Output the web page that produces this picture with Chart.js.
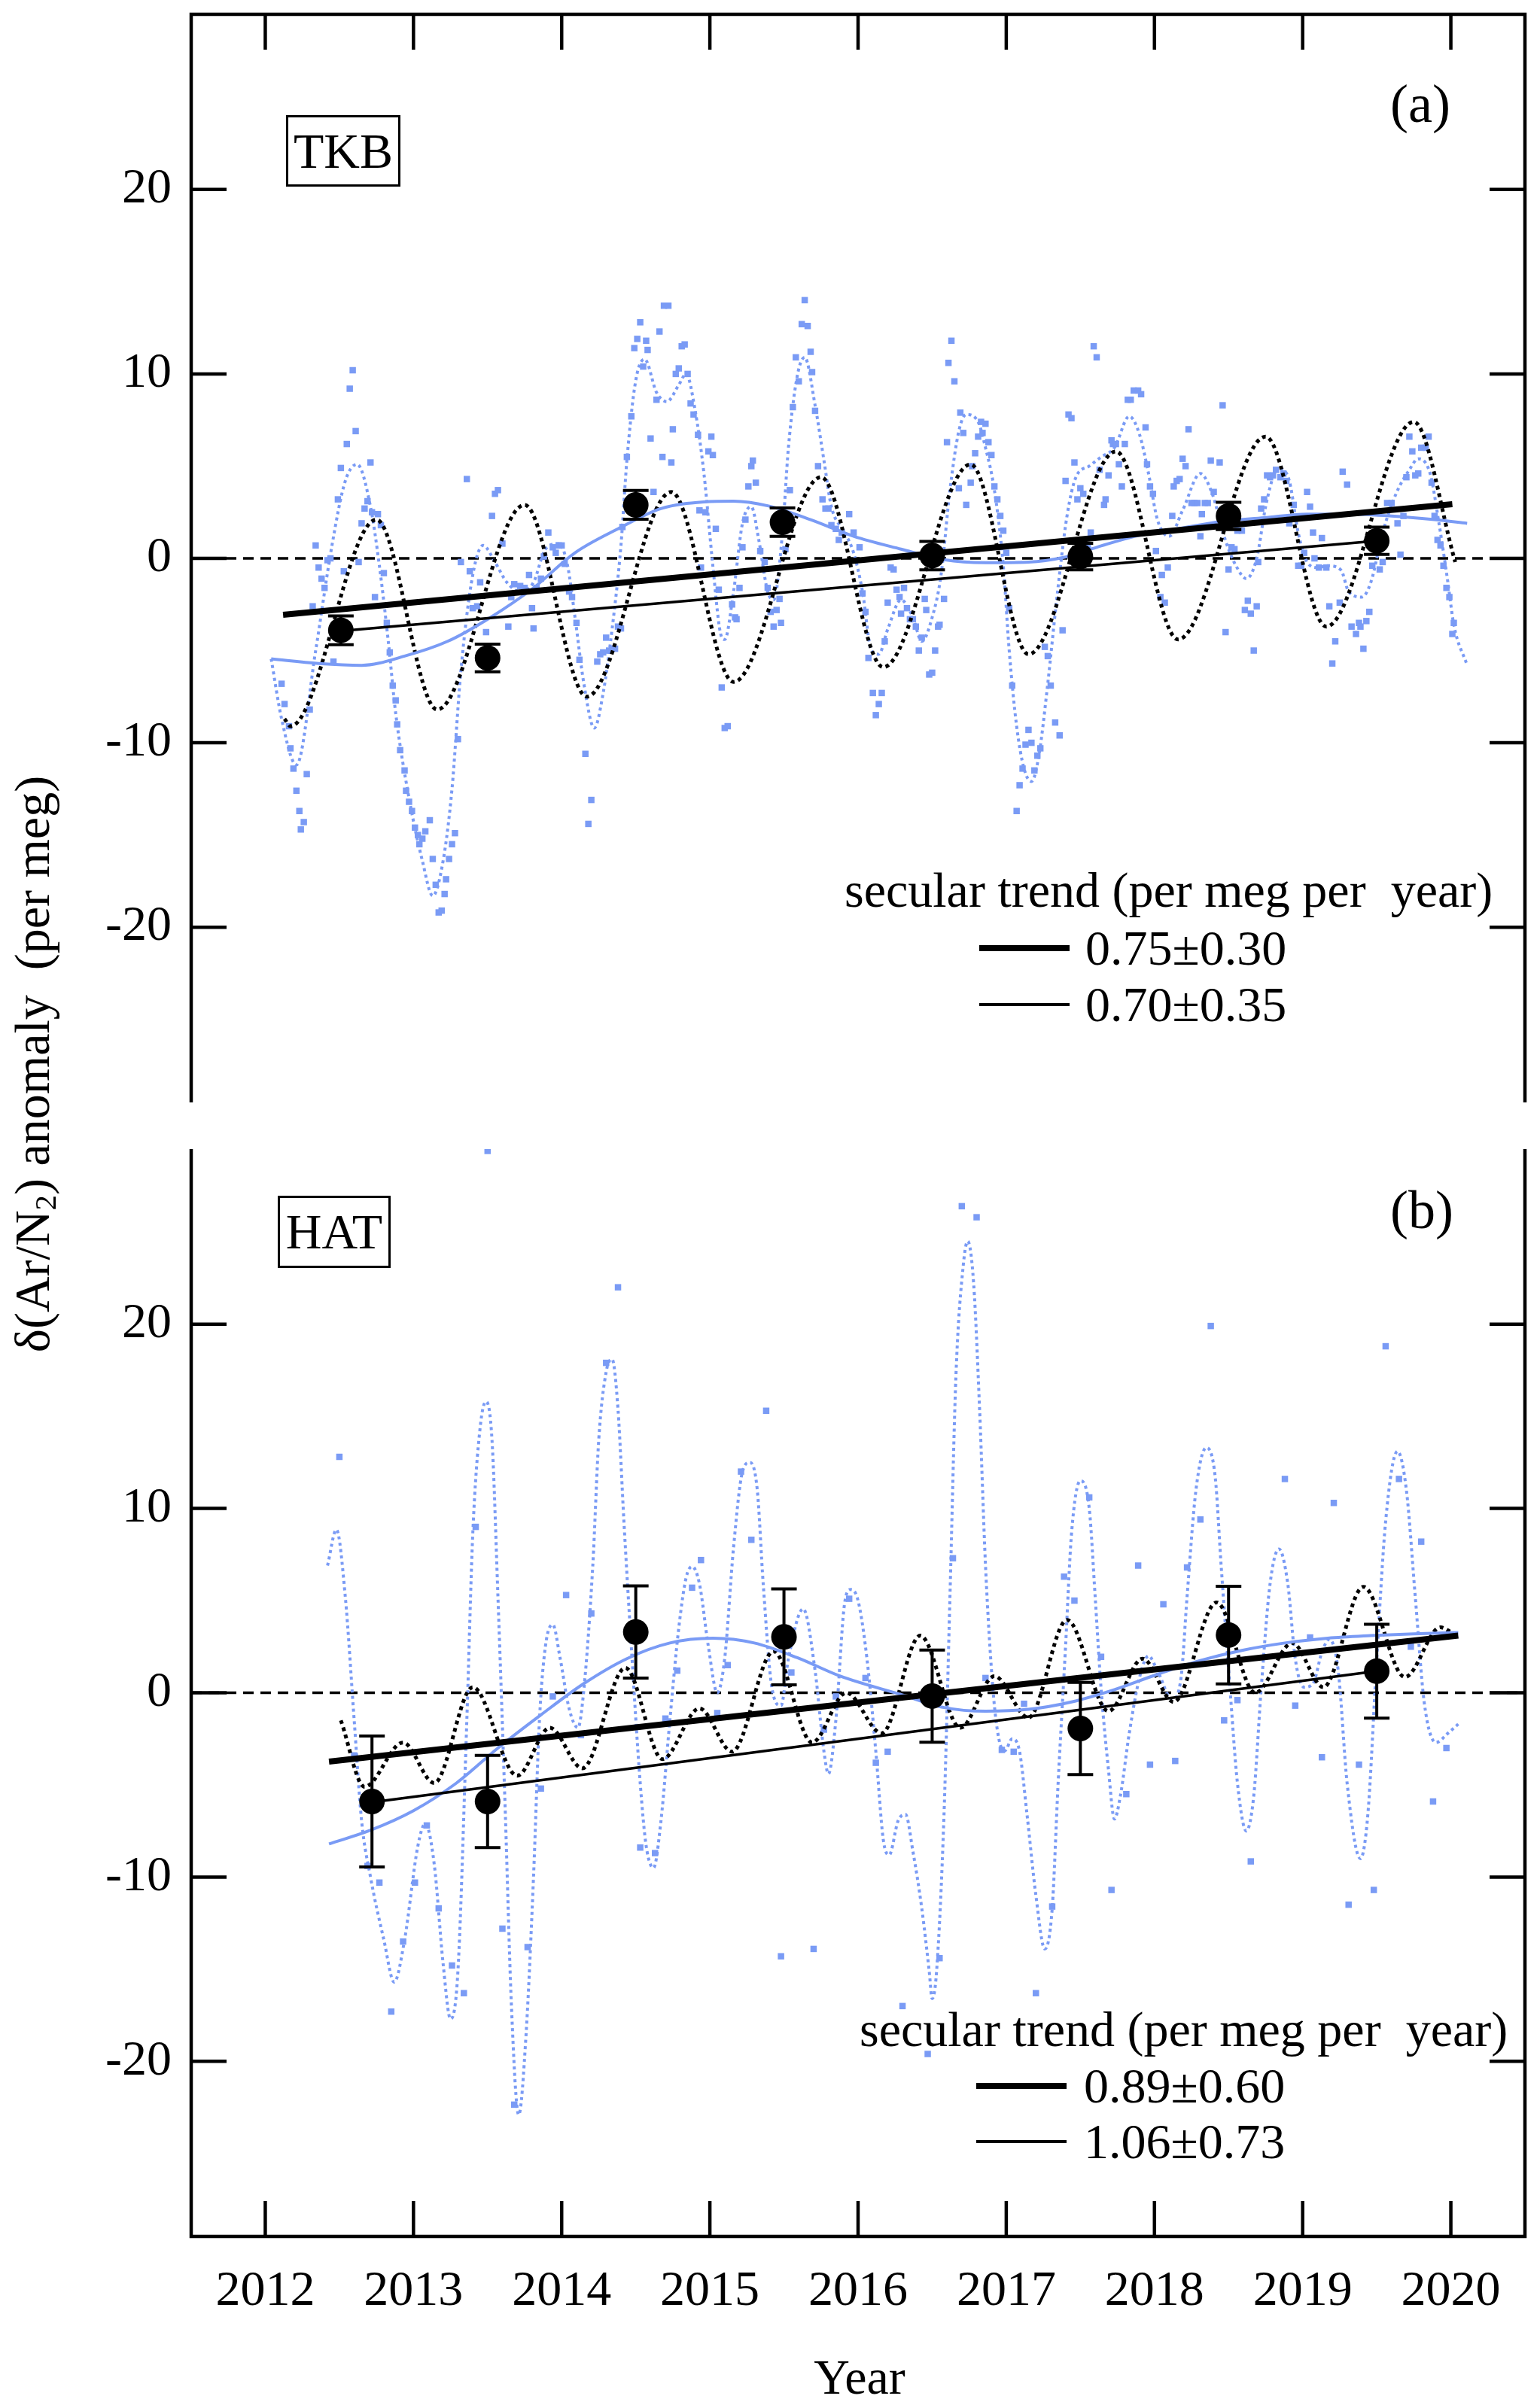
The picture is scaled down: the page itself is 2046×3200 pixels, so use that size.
<!DOCTYPE html>
<html>
<head>
<meta charset="utf-8">
<title>Ar/N2 anomaly - TKB / HAT</title>
<script src="https://cdn.jsdelivr.net/npm/chart.js@4.4.1/dist/chart.umd.min.js"></script>
<style>
    html, body { margin: 0; padding: 0; background: #fff; }
    #page { position: relative; width: 2046px; height: 3200px; font-family: 'Liberation Serif', 'Times New Roman', serif; color: #000; }
    canvas { position: absolute; left: 0; }
    .txt { position: absolute; white-space: pre; font-size: 66px; line-height: 66px; }
    .site { position: absolute; box-sizing: border-box; border: 3px solid #000; display: flex; align-items: center; justify-content: center; font-size: 66px; line-height: 66px; }
    .tag { position: absolute; font-size: 72px; line-height: 72px; }
    .key { position: absolute; background: #000; }
    sub { font-size: 0.62em; line-height: 0; vertical-align: -0.22em; }
</style>
</head>
<body>
<div id="page">
    <canvas id="chartTKB" width="2046" height="1500" style="top:0"></canvas>
    <canvas id="chartHAT" width="2046" height="1700" style="top:1500px"></canvas>

    <div class="txt" style="left:-457px; top:1381px; width:1000px; text-align:center; transform:rotate(-90deg);">δ(Ar/N<sub>2</sub>) anomaly  (per meg)</div>
    <div class="txt" style="left:942px; top:3126px; width:400px; text-align:center;">Year</div>

    <div class="site" style="left:380px; top:153px; width:152px; height:95px;">TKB</div>
    <div class="site" style="left:369px; top:1589px; width:150px; height:96px;">HAT</div>
    <div class="tag" style="left:1847px; top:102px;">(a)</div>
    <div class="tag" style="left:1847px; top:1572px;">(b)</div>

    <div class="txt" style="left:1122px; top:1150px;">secular trend (per meg per  year)</div>
    <div class="key" style="left:1301px; top:1256px; width:120px; height:8px;"></div>
    <div class="key" style="left:1301px; top:1333px; width:120px; height:4px;"></div>
    <div class="txt" id="keyA1" style="left:1442px; top:1227px;"></div>
    <div class="txt" id="keyA2" style="left:1442px; top:1302px;"></div>

    <div class="txt" style="left:1142px; top:2664px;">secular trend (per meg per  year)</div>
    <div class="key" style="left:1297px; top:2768px; width:120px; height:8px;"></div>
    <div class="key" style="left:1297px; top:2844px; width:120px; height:4px;"></div>
    <div class="txt" id="keyB1" style="left:1440px; top:2739px;"></div>
    <div class="txt" id="keyB2" style="left:1440px; top:2813px;"></div>
</div>

<script>
// ==========================================
// 1. DATA
// ==========================================
const xTicks = [2012, 2013, 2014, 2015, 2016, 2017, 2018, 2019, 2020];
const yTicks = [-20, -10, 0, 10, 20];
const xRange = [2011.5, 2020.5];
const yRange = [-29.5, 29.5];

// --- (a) TKB ---
const tkbAnnualYears = [2012.51, 2013.5, 2014.5, 2015.49, 2016.5, 2017.5, 2018.5, 2019.5];
const tkbAnnualVals  = [-3.9, -5.4, 2.9, 1.96, 0.15, 0.1, 2.3, 0.95];
const tkbAnnualErr   = [0.78, 0.75, 0.78, 0.77, 0.77, 0.72, 0.74, 0.74];
const tkbTrendAll    = [[2012.12, -3.06], [2020.01, 2.94]];
const tkbTrendAnnual = [[2012.51, -3.94], [2019.5, 0.95]];
const tkbTrendText   = ['0.75±0.30', '0.70±0.35'];

const tkbSmooth = [[2012.04,-5.45],[2012.36,-5.7],[2012.65,-5.8],[2012.94,-5.3],[2013.23,-4.5],[2013.52,-3.2],[2013.81,-1.6],
    [2014.09,0.3],[2014.38,1.6],[2014.67,2.7],[2014.96,3.06],[2015.16,3.1],[2015.39,2.85],[2015.68,2.1],[2015.97,1.2],
    [2016.29,0.5],[2016.58,-0.07],[2016.86,-0.23],[2017.15,-0.2],[2017.38,0.04],[2017.61,0.6],[2017.87,1.2],[2018.16,1.6],
    [2018.45,2.0],[2018.74,2.2],[2019.03,2.4],[2019.31,2.4],[2019.6,2.3],[2019.89,2.1],[2020.11,1.9]];

const tkbModel = [[2012.13,-8.7],[2012.17,-9.1],[2012.75,2.1],[2013.16,-8.2],[2013.75,2.9],[2014.17,-7.5],[2014.74,3.6],
    [2015.16,-6.7],[2015.75,4.4],[2016.17,-5.9],[2016.76,5.1],[2017.15,-5.2],[2017.74,5.8],[2018.16,-4.4],[2018.75,6.6],
    [2019.16,-3.7],[2019.75,7.4],[2020.03,-0.2]];

const tkbFit = [[2012.04,-5.45],[2012.11,-8.7],[2012.21,-11.2],[2012.34,-5.0],[2012.45,0.7],[2012.54,4.2],[2012.62,5.1],
    [2012.71,2.8],[2012.77,-0.4],[2012.83,-4.5],[2012.88,-8.4],[2012.97,-13.0],[2013.06,-16.4],[2013.13,-18.3],[2013.2,-16.4],
    [2013.26,-12.5],[2013.32,-6.1],[2013.4,-0.9],[2013.47,0.7],[2013.55,-0.2],[2013.63,-1.3],[2013.72,-1.8],[2013.81,-1.3],
    [2013.89,0.5],[2013.98,0.8],[2014.04,-0.4],[2014.09,-3.2],[2014.15,-6.8],[2014.22,-9.2],[2014.28,-7.3],[2014.34,-3.85],
    [2014.4,0.7],[2014.44,5.3],[2014.5,9.65],[2014.56,10.8],[2014.64,9.0],[2014.71,8.5],[2014.79,9.4],[2014.84,10.0],
    [2014.9,8.05],[2014.96,4.6],[2015.02,-0.4],[2015.07,-4.0],[2015.1,-4.4],[2015.16,-1.8],[2015.22,1.9],[2015.28,2.8],
    [2015.33,1.0],[2015.39,-1.8],[2015.43,-2.25],[2015.49,1.4],[2015.53,6.0],[2015.59,9.9],[2015.64,10.9],[2015.71,8.3],
    [2015.77,5.3],[2015.82,2.8],[2015.91,1.4],[2015.97,0.3],[2016.03,-1.8],[2016.09,-5.0],[2016.14,-5.2],[2016.2,-3.85],
    [2016.29,-2.25],[2016.37,-3.2],[2016.43,-4.5],[2016.5,-3.2],[2016.56,-0.9],[2016.62,3.7],[2016.68,6.9],[2016.73,7.8],
    [2016.81,7.4],[2016.86,6.0],[2016.92,3.7],[2016.98,-0.4],[2017.02,-5.0],[2017.07,-9.1],[2017.12,-11.4],[2017.17,-12.1],
    [2017.22,-10.7],[2017.28,-6.8],[2017.34,-2.25],[2017.41,2.3],[2017.47,4.4],[2017.56,5.0],[2017.64,5.5],[2017.73,6.0],
    [2017.83,7.7],[2017.9,6.7],[2017.96,4.6],[2018.02,2.1],[2018.1,1.2],[2018.19,2.6],[2018.31,4.6],[2018.39,3.5],
    [2018.48,0.95],[2018.55,-0.4],[2018.62,-1.1],[2018.69,0.0],[2018.75,2.8],[2018.81,4.6],[2018.85,4.85],[2018.91,4.2],
    [2018.97,1.4],[2019.03,-0.2],[2019.1,-0.5],[2019.17,-0.4],[2019.26,-0.65],[2019.31,-1.8],[2019.4,-2.1],[2019.46,-1.3],
    [2019.54,1.4],[2019.63,3.5],[2019.72,4.8],[2019.78,5.4],[2019.86,4.6],[2019.92,1.9],[2019.98,-1.3],[2020.02,-3.6],
    [2020.11,-5.8]];

const tkbObs = [[2012.11,-6.8],[2012.13,-7.9],[2012.16,-9.1],[2012.17,-10.3],[2012.19,-11.4],[2012.21,-12.6],[2012.23,-13.7],
    [2012.24,-14.7],[2012.26,-14.3],[2012.28,-11.7],[2012.30,-8.2],[2012.32,-2.6],[2012.34,0.7],[2012.36,-0.5],[2012.38,-1.1],
    [2012.40,-1.6],[2012.42,-0.1],[2012.44,0.0],[2012.46,-5.6],[2012.49,3.2],[2012.51,4.9],[2012.53,-0.7],[2012.55,6.2],
    [2012.57,9.2],[2012.59,10.2],[2012.61,6.9],[2012.63,-0.2],[2012.65,1.9],[2012.67,2.7],[2012.69,3.1],[2012.71,5.2],
    [2012.72,2.5],[2012.74,-2.1],[2012.76,2.4],[2012.78,1.8],[2012.80,-0.8],[2012.82,-3.5],[2012.84,-5.1],[2012.86,-6.9],
    [2012.88,-7.7],[2012.89,-9.0],[2012.91,-10.4],[2012.94,-11.5],[2012.95,-12.6],[2012.97,-13.2],[2012.99,-13.7],
    [2013.01,-14.6],[2013.03,-15.0],[2013.04,-15.5],[2013.06,-15.2],[2013.08,-14.8],[2013.11,-14.2],[2013.13,-16.3],
    [2013.15,-17.7],[2013.17,-19.2],[2013.19,-19.1],[2013.21,-18.2],[2013.22,-17.4],[2013.24,-16.3],[2013.26,-15.5],
    [2013.28,-14.9],[2013.30,-9.8],[2013.32,-0.2],[2013.36,4.3],[2013.38,-0.7],[2013.40,-2.7],[2013.43,-2.6],[2013.45,-1.3],
    [2013.49,-4.0],[2013.53,2.3],[2013.55,3.5],[2013.57,3.7],[2013.60,0.8],[2013.64,-3.7],[2013.66,-2.1],[2013.68,-1.4],
    [2013.72,-1.5],[2013.75,-1.6],[2013.78,-0.9],[2013.80,-2.7],[2013.81,-3.8],[2013.83,-1.6],[2013.86,-1.1],[2013.88,0.1],
    [2013.91,1.4],[2013.94,0.6],[2013.96,0.3],[2013.98,0.7],[2014.00,0.7],[2014.02,-0.3],[2014.05,-1.8],[2014.07,-2.1],
    [2014.10,-3.5],[2014.12,-5.5],[2014.16,-10.6],[2014.18,-14.4],[2014.20,-13.1],[2014.24,-5.6],[2014.26,-5.2],
    [2014.28,-5.1],[2014.30,-4.3],[2014.32,-5.0],[2014.34,-4.9],[2014.36,-4.9],[2014.38,-3.7],[2014.40,-3.8],[2014.41,1.7],
    [2014.44,5.5],[2014.47,7.7],[2014.49,11.4],[2014.51,11.9],[2014.53,12.8],[2014.55,10.4],[2014.57,11.8],[2014.58,11.3],
    [2014.60,6.5],[2014.62,3.6],[2014.64,8.6],[2014.66,12.3],[2014.68,5.5],[2014.69,13.7],[2014.72,13.7],[2014.74,5.2],
    [2014.75,7.0],[2014.77,10.0],[2014.79,10.3],[2014.81,11.5],[2014.83,11.6],[2014.85,10.0],[2014.87,8.4],[2014.89,7.8],
    [2014.92,6.7],[2014.93,2.6],[2014.94,-0.5],[2014.97,2.5],[2014.99,5.8],[2015.01,6.6],[2015.02,5.6],[2015.04,1.6],
    [2015.06,-1.7],[2015.08,-7.0],[2015.10,-9.2],[2015.12,-9.1],[2015.15,-2.5],[2015.17,-3.2],[2015.18,-3.3],[2015.20,-1.6],
    [2015.22,0.6],[2015.24,2.1],[2015.26,3.9],[2015.28,5.0],[2015.29,5.3],[2015.31,4.1],[2015.34,0.4],[2015.37,-0.2],
    [2015.39,-1.6],[2015.41,-2.9],[2015.43,-3.7],[2015.45,-2.8],[2015.47,-2.2],[2015.48,-3.5],[2015.51,0.5],[2015.54,3.7],
    [2015.56,8.2],[2015.58,10.9],[2015.60,9.6],[2015.62,12.7],[2015.64,14.0],[2015.66,12.6],[2015.68,11.2],[2015.69,10.1],
    [2015.71,8.0],[2015.73,5.0],[2015.76,3.2],[2015.78,2.7],[2015.80,2.7],[2015.82,1.8],[2015.85,1.6],[2015.87,1.0],
    [2015.89,1.4],[2015.94,2.4],[2015.97,1.4],
    [2016.01,0.6],[2016.03,-1.9],[2016.05,-2.9],[2016.07,-5.4],[2016.10,-7.3],[2016.12,-8.5],[2016.14,-7.9],[2016.16,-7.3],
    [2016.18,-4.5],[2016.20,-2.4],[2016.22,-0.5],[2016.24,-0.6],[2016.26,-1.7],[2016.28,-2.1],[2016.29,-3.0],[2016.31,-1.6],
    [2016.33,-2.7],[2016.35,-3.3],[2016.37,-3.3],[2016.39,-3.7],[2016.41,-5.0],[2016.43,-4.3],[2016.45,-2.2],[2016.46,-2.8],
    [2016.48,-6.3],[2016.50,-6.2],[2016.52,-5.0],[2016.54,-3.7],[2016.55,-3.6],[2016.58,-2.2],[2016.60,6.3],[2016.61,10.6],
    [2016.63,11.8],[2016.65,9.6],[2016.68,3.8],[2016.69,7.9],[2016.71,6.8],[2016.73,2.9],[2016.76,4.1],[2016.77,5.0],
    [2016.79,5.7],[2016.81,6.6],[2016.83,7.4],[2016.84,6.8],[2016.86,7.3],[2016.88,6.3],[2016.90,5.6],[2016.92,3.9],
    [2016.94,3.2],[2016.96,2.3],[2016.98,1.5],[2017.00,0.3],[2017.02,-2.7],[2017.04,-6.9],[2017.07,-13.7],[2017.09,-12.3],
    [2017.11,-11.4],[2017.13,-10.1],[2017.15,-9.3],[2017.17,-10.0],[2017.19,-11.5],[2017.21,-10.7],[2017.23,-10.3],
    [2017.26,-4.8],[2017.28,-5.3],[2017.30,-6.9],[2017.33,-8.9],[2017.36,-9.6],[2017.38,-3.9],[2017.40,4.2],[2017.42,7.8],
    [2017.44,7.6],[2017.46,5.2],[2017.48,3.2],[2017.50,3.8],[2017.52,3.5],[2017.55,0.7],[2017.57,1.4],[2017.59,11.5],
    [2017.61,10.9],[2017.63,4.8],[2017.66,2.9],[2017.67,3.2],[2017.69,4.5],[2017.71,6.4],[2017.72,6.2],[2017.74,6.2],
    [2017.76,5.1],[2017.78,3.9],[2017.80,6.2],[2017.82,8.6],[2017.84,8.6],[2017.86,9.1],[2017.89,9.1],[2017.91,8.9],
    [2017.94,7.1],[2017.95,5.1],[2017.97,3.9],[2017.99,3.5],[2018.01,0.4],[2018.04,-2.1],[2018.05,-0.9],[2018.07,-2.4],
    [2018.09,-0.5],[2018.12,2.3],[2018.13,3.9],[2018.15,4.2],[2018.17,4.3],[2018.19,5.4],[2018.21,5.0],[2018.23,7.0],
    [2018.25,3.0],[2018.27,3.0],[2018.29,3.0],[2018.31,1.2],[2018.32,2.4],[2018.34,3.0],[2018.36,3.0],[2018.38,5.3],
    [2018.40,3.6],[2018.44,5.2],[2018.46,8.3],[2018.48,-4.0],[2018.50,-0.6],[2018.52,0.6],[2018.54,0.5],[2018.56,1.5],
    [2018.59,1.5],[2018.61,-2.8],[2018.63,-2.3],[2018.65,-3.0],[2018.67,-5.0],[2018.69,-2.6],[2018.70,-0.2],[2018.72,2.7],
    [2018.74,3.2],[2018.76,4.5],[2018.78,4.4],[2018.80,4.5],[2018.82,4.8],[2018.85,4.4],[2018.87,4.6],[2018.89,4.2],
    [2018.91,1.9],[2018.94,2.9],[2018.97,-0.4],[2018.99,-0.4],[2019.01,0.3],[2019.03,3.6],[2019.05,2.8],[2019.07,1.4],
    [2019.08,0.0],[2019.11,-0.5],[2019.13,1.1],[2019.16,-0.5],[2019.18,-2.6],[2019.20,-5.7],[2019.22,-4.5],[2019.25,-2.4],
    [2019.27,4.7],[2019.30,4.0],[2019.33,-3.7],[2019.36,-4.1],[2019.38,-3.5],[2019.39,-3.7],[2019.41,-4.9],[2019.43,-3.4],
    [2019.45,-2.9],[2019.47,-0.4],[2019.49,1.0],[2019.52,-0.6],[2019.54,-0.2],[2019.57,3.0],[2019.60,3.0],[2019.64,1.9],
    [2019.66,0.2],[2019.68,2.3],[2019.70,4.4],[2019.72,6.6],[2019.74,5.8],[2019.76,4.5],[2019.78,4.6],[2019.80,6.0],
    [2019.83,6.0],[2019.85,6.6],[2019.87,4.1],[2019.89,2.3],[2019.91,1.0],[2019.93,0.7],[2019.95,-0.4],[2019.97,-1.6],
    [2019.99,-2.1],[2020.01,-4.1],[2020.02,-3.5]];

// --- (b) HAT ---
const hatAnnualYears = [2012.72, 2013.5, 2014.5, 2015.5, 2016.5, 2017.5, 2018.5, 2019.5];
const hatAnnualVals  = [-5.9, -5.9, 3.3, 3.03, -0.18, -1.94, 3.13, 1.17];
const hatAnnualErr   = [3.55, 2.5, 2.5, 2.6, 2.5, 2.5, 2.65, 2.55];
const hatTrendAll    = [[2012.43, -3.74], [2020.05, 3.1]];
const hatTrendAnnual = [[2012.72, -5.94], [2019.5, 1.17]];
const hatTrendText   = ['0.89±0.60', '1.06±0.73'];

const hatSmooth = [[2012.43,-8.2],[2012.71,-7.46],[2013.0,-6.4],[2013.29,-4.9],[2013.57,-3.0],[2013.86,-1.2],[2014.15,0.5],
    [2014.44,1.85],[2014.73,2.7],[2015.02,2.96],[2015.3,2.7],[2015.59,1.9],[2015.88,0.9],[2016.29,-0.1],[2016.58,-0.8],
    [2016.86,-1.0],[2017.15,-0.9],[2017.44,-0.5],[2017.73,0.17],[2018.02,1.0],[2018.31,1.75],[2018.59,2.3],[2018.88,2.7],
    [2019.17,2.96],[2019.46,3.1],[2019.75,3.2],[2020.05,3.27]];

const hatModel = [[2012.51,-1.5],[2012.67,-5.1],[2012.93,-2.7],[2013.14,-4.9],[2013.4,0.3],[2013.7,-4.5],[2013.92,-1.9],
    [2014.14,-4.1],[2014.43,1.35],[2014.68,-3.6],[2014.93,-0.85],[2015.15,-3.2],[2015.43,2.25],[2015.69,-2.7],[2015.92,0.0],
    [2016.16,-2.2],[2016.42,3.1],[2016.69,-1.9],[2016.92,0.9],[2017.15,-1.35],[2017.41,3.95],[2017.69,-1.0],[2017.92,1.85],
    [2018.13,-0.5],[2018.42,4.9],[2018.68,0.0],[2018.93,2.7],[2019.14,0.3],[2019.41,5.75],[2019.69,0.85],[2019.93,3.55],
    [2020.0,3.3]];

const hatFit = [[2012.42,6.9],[2012.48,8.85],[2012.54,5.2],[2012.6,-1.5],[2012.65,-6.95],[2012.71,-10.0],[2012.8,-13.4],
    [2012.87,-15.7],[2012.94,-13.4],[2013.03,-8.3],[2013.08,-7.1],[2013.14,-9.3],[2013.2,-14.7],[2013.25,-17.7],[2013.3,-15.1],
    [2013.36,-1.5],[2013.4,8.6],[2013.45,14.4],[2013.49,15.8],[2013.53,13.7],[2013.57,5.2],[2013.62,-6.6],[2013.66,-16.8],
    [2013.71,-22.9],[2013.76,-18.5],[2013.81,-10.0],[2013.85,-1.5],[2013.89,2.5],[2013.94,3.7],[2013.99,1.85],[2014.05,-0.85],
    [2014.11,-1.9],[2014.15,0.2],[2014.21,6.9],[2014.25,13.7],[2014.3,17.4],[2014.34,18.1],[2014.38,15.4],[2014.42,9.3],
    [2014.47,2.5],[2014.53,-4.9],[2014.57,-8.3],[2014.62,-9.5],[2014.67,-6.95],[2014.73,-1.5],[2014.79,3.5],[2014.84,6.25],
    [2014.88,6.85],[2014.93,5.9],[2014.99,2.5],[2015.05,0.0],[2015.1,1.85],[2015.16,7.9],[2015.22,12.0],[2015.27,12.5],
    [2015.32,11.0],[2015.36,5.9],[2015.42,0.2],[2015.48,-0.7],[2015.53,1.85],[2015.63,4.55],[2015.71,1.2],[2015.77,-3.2],
    [2015.8,-4.4],[2015.85,-1.5],[2015.91,4.9],[2015.95,5.6],[2016.0,5.0],[2016.06,1.85],[2016.12,-3.2],[2016.17,-7.96],
    [2016.21,-8.8],[2016.27,-6.95],[2016.32,-6.6],[2016.37,-8.6],[2016.43,-11.7],[2016.48,-15.1],[2016.5,-16.6],
    [2016.53,-15.1],[2016.58,-6.6],[2016.62,5.2],[2016.66,17.1],[2016.71,23.2],[2016.74,24.5],[2016.78,22.2],[2016.82,15.4],
    [2016.86,6.9],[2016.91,0.2],[2016.95,-2.5],[2016.99,-3.15],[2017.04,-2.5],[2017.09,-3.2],[2017.14,-6.6],[2017.2,-11.0],
    [2017.26,-13.9],[2017.31,-11.7],[2017.35,-4.9],[2017.4,2.5],[2017.44,8.6],[2017.5,11.5],[2017.56,10.0],[2017.6,5.2],
    [2017.64,0.2],[2017.69,-4.2],[2017.73,-6.85],[2017.77,-5.6],[2017.83,-2.2],[2017.9,0.85],[2017.96,2.0],[2018.02,1.2],
    [2018.12,-0.35],[2018.18,0.85],[2018.22,5.2],[2018.28,11.0],[2018.35,13.3],[2018.41,11.7],[2018.45,6.9],[2018.51,0.2],
    [2018.56,-4.9],[2018.62,-7.5],[2018.67,-5.6],[2018.72,0.2],[2018.78,5.9],[2018.84,7.8],[2018.9,5.9],[2018.95,1.85],
    [2019.01,0.3],[2019.07,0.5],[2019.13,2.2],[2019.18,2.9],[2019.24,1.2],[2019.3,-4.9],[2019.39,-9.0],[2019.44,-6.6],
    [2019.5,1.85],[2019.56,9.3],[2019.64,13.1],[2019.7,11.0],[2019.76,5.2],[2019.82,-0.5],[2019.9,-2.7],[2019.98,-2.2],
    [2020.05,-1.7]];

const hatObs = [[2012.5,12.8],[2012.6,-3.4],[2012.69,-9.4],[2012.77,-10.3],[2012.85,-17.3],[2012.93,-13.5],[2013.01,-10.3],
    [2013.09,-7.2],[2013.17,-11.7],[2013.26,-14.8],[2013.34,-16.3],[2013.42,9.0],[2013.5,29.4],[2013.6,-12.8],[2013.68,-22.35],
    [2013.77,-13.8],[2013.86,-5.2],[2013.94,-0.2],[2014.03,5.3],[2014.13,-2.3],[2014.2,4.3],[2014.3,17.9],[2014.38,22.0],
    [2014.53,-8.4],[2014.63,-8.7],[2014.7,-1.4],[2014.78,1.2],[2014.88,5.7],[2014.94,7.2],[2015.05,-1.1],[2015.12,1.5],
    [2015.21,12.0],[2015.28,8.3],[2015.38,15.3],[2015.48,-14.3],[2015.55,1.1],[2015.7,-13.9],[2015.77,-2.0],[2015.85,-0.2],
    [2015.94,5.1],[2016.05,0.8],[2016.12,-3.8],[2016.2,-3.2],[2016.3,-17.0],[2016.47,-19.6],[2016.55,-14.4],[2016.64,7.3],
    [2016.7,26.4],[2016.8,25.8],[2016.86,0.8],[2016.97,-3.1],[2017.05,-3.2],[2017.12,-0.6],[2017.2,-16.3],[2017.31,-11.6],
    [2017.39,6.3],[2017.46,5.0],[2017.56,10.6],[2017.64,1.95],[2017.71,-10.7],[2017.81,-5.5],[2017.89,6.9],[2017.97,-3.9],
    [2018.06,4.8],[2018.14,-3.7],[2018.22,6.8],[2018.31,9.4],[2018.38,19.9],[2018.47,-1.5],[2018.56,-0.4],[2018.65,-9.15],
    [2018.88,11.6],[2018.95,-0.7],[2019.05,3.0],[2019.13,-3.5],[2019.21,10.3],[2019.31,-11.5],[2019.38,-3.9],[2019.48,-10.7],
    [2019.56,18.8],[2019.65,11.6],[2019.73,2.5],[2019.8,8.2],[2019.88,-5.9],[2019.97,-3.0]];

// ==========================================
// 2. STYLE
// ==========================================
const FONT = "'Liberation Serif', 'Times New Roman', serif";
const BLUE = 'rgb(122, 155, 245)';
const FRAME_W = 4.5;
const TICK_LEN = 47;

Chart.defaults.font.family = FONT;
Chart.defaults.color = '#000';

const pairsToXY = pairs => pairs.map(([x, y]) => ({ x, y }));
const zipXY = (xs, ys) => xs.map((x, i) => ({ x, y: ys[i] }));

// ==========================================
// 3. PLUGIN: zero line, error bars, frame + inward ticks
// ==========================================
const framePlugin = {
    id: 'frame',
    beforeDatasetsDraw(chart) {
        const { ctx, chartArea: a, scales: { y } } = chart;
        const y0 = y.getPixelForValue(0);
        ctx.save();
        ctx.strokeStyle = '#000';
        ctx.lineWidth = 3.5;
        ctx.setLineDash([14, 9]);
        ctx.beginPath();
        ctx.moveTo(a.left, y0);
        ctx.lineTo(a.right, y0);
        ctx.stroke();
        ctx.restore();
    },
    beforeDatasetDraw(chart, args) {
        // error bars go right under the annual mean circles (dataset 0)
        if (args.index !== 0) return;
        const ds = chart.data.datasets[0];
        const { ctx, scales: { x, y } } = chart;
        ctx.save();
        ctx.strokeStyle = '#000';
        ctx.lineWidth = 4;
        ds.data.forEach((p, i) => {
            const e = ds.errorBars[i];
            const px = x.getPixelForValue(p.x);
            const yt = y.getPixelForValue(p.y + e);
            const yb = y.getPixelForValue(p.y - e);
            ctx.beginPath();
            ctx.moveTo(px, yt); ctx.lineTo(px, yb);
            ctx.moveTo(px - 17, yt); ctx.lineTo(px + 17, yt);
            ctx.moveTo(px - 17, yb); ctx.lineTo(px + 17, yb);
            ctx.stroke();
        });
        ctx.restore();
    },
    afterDraw(chart, args, opts) {
        const { ctx, chartArea: a, scales: { x, y } } = chart;
        ctx.save();
        ctx.strokeStyle = '#000';
        ctx.lineWidth = FRAME_W;
        ctx.lineJoin = 'miter';
        ctx.lineCap = 'butt';
        ctx.beginPath();
        if (opts.open === 'bottom') {
            ctx.moveTo(a.left, a.bottom); ctx.lineTo(a.left, a.top);
            ctx.lineTo(a.right, a.top); ctx.lineTo(a.right, a.bottom);
        } else {
            ctx.moveTo(a.left, a.top); ctx.lineTo(a.left, a.bottom);
            ctx.lineTo(a.right, a.bottom); ctx.lineTo(a.right, a.top);
        }
        ctx.stroke();

        ctx.beginPath();
        const edge = opts.open === 'bottom' ? a.top : a.bottom;
        const dir = opts.open === 'bottom' ? 1 : -1;
        xTicks.forEach(t => {
            const px = x.getPixelForValue(t);
            ctx.moveTo(px, edge); ctx.lineTo(px, edge + dir * TICK_LEN);
        });
        yTicks.forEach(t => {
            const py = y.getPixelForValue(t);
            ctx.moveTo(a.left, py); ctx.lineTo(a.left + TICK_LEN, py);
            ctx.moveTo(a.right, py); ctx.lineTo(a.right - TICK_LEN, py);
        });
        ctx.stroke();
        ctx.restore();
    }
};

// ==========================================
// 4. BUILD ONE PANEL
// ==========================================
function buildPanel(canvasId, p) {
    return new Chart(document.getElementById(canvasId), {
        type: 'line',
        data: {
            datasets: [{
                label: 'Annual mean',
                data: zipXY(p.annualYears, p.annualVals),
                errorBars: p.annualErr,
                showLine: false,
                pointRadius: 17,
                pointBackgroundColor: '#000',
                pointBorderWidth: 0
            }, {
                label: 'Trend (all data)',
                data: pairsToXY(p.trendAll),
                borderColor: '#000', borderWidth: 8, pointRadius: 0
            }, {
                label: 'Trend (annual means)',
                data: pairsToXY(p.trendAnnual),
                borderColor: '#000', borderWidth: 3.5, pointRadius: 0
            }, {
                label: 'Interannual curve',
                data: pairsToXY(p.smooth),
                borderColor: BLUE, borderWidth: 4, pointRadius: 0,
                cubicInterpolationMode: 'monotone'
            }, {
                label: 'Model',
                data: pairsToXY(p.model),
                borderColor: '#000', borderWidth: 5, borderDash: [5, 5], pointRadius: 0,
                cubicInterpolationMode: 'monotone'
            }, {
                label: 'Best fit',
                data: pairsToXY(p.fit),
                borderColor: BLUE, borderWidth: 4, borderDash: [4, 4.5], pointRadius: 0,
                cubicInterpolationMode: 'monotone'
            }, {
                label: 'Observations',
                data: pairsToXY(p.obs),
                showLine: false,
                pointStyle: 'rect',
                pointRadius: 6,
                pointBackgroundColor: BLUE,
                pointBorderWidth: 0
            }]
        },
        options: {
            responsive: false,
            animation: false,
            devicePixelRatio: 1,
            layout: { padding: { left: 0, right: 20, top: p.padTop, bottom: p.padBottom } },
            plugins: { legend: { display: false }, tooltip: { enabled: false }, frame: { open: p.open } },
            scales: {
                x: {
                    type: 'linear',
                    min: xRange[0], max: xRange[1],
                    display: p.showXLabels,
                    grid: { display: false, drawTicks: false },
                    border: { display: false },
                    ticks: {
                        padding: 34, maxRotation: 0, autoSkip: false,
                        font: { size: 66 }, color: '#000',
                        callback: v => String(v)
                    },
                    afterBuildTicks: s => { s.ticks = xTicks.map(v => ({ value: v })); },
                    afterFit: s => { s.height = p.xAxisHeight; s.paddingLeft = 0; s.paddingRight = 0; }
                },
                y: {
                    type: 'linear',
                    min: yRange[0], max: yRange[1],
                    grid: { display: false, drawTicks: false },
                    border: { display: false },
                    ticks: {
                        padding: 26,
                        font: { size: 66 }, color: '#000',
                        callback: v => String(v)
                    },
                    afterBuildTicks: s => { s.ticks = yTicks.map(v => ({ value: v })); },
                    afterFit: s => { s.width = 254; s.paddingTop = 0; s.paddingBottom = 0; }
                }
            }
        },
        plugins: [framePlugin]
    });
}

document.addEventListener('DOMContentLoaded', () => {
    buildPanel('chartTKB', {
        annualYears: tkbAnnualYears, annualVals: tkbAnnualVals, annualErr: tkbAnnualErr,
        trendAll: tkbTrendAll, trendAnnual: tkbTrendAnnual,
        smooth: tkbSmooth, model: tkbModel, fit: tkbFit, obs: tkbObs,
        padTop: 19, padBottom: 35, showXLabels: false, xAxisHeight: 0, open: 'bottom'
    });
    buildPanel('chartHAT', {
        annualYears: hatAnnualYears, annualVals: hatAnnualVals, annualErr: hatAnnualErr,
        trendAll: hatTrendAll, trendAnnual: hatTrendAnnual,
        smooth: hatSmooth, model: hatModel, fit: hatFit, obs: hatObs,
        padTop: 27, padBottom: 0, showXLabels: true, xAxisHeight: 228, open: 'top'
    });

    document.getElementById('keyA1').textContent = tkbTrendText[0];
    document.getElementById('keyA2').textContent = tkbTrendText[1];
    document.getElementById('keyB1').textContent = hatTrendText[0];
    document.getElementById('keyB2').textContent = hatTrendText[1];
});
</script>
</body>
</html>
